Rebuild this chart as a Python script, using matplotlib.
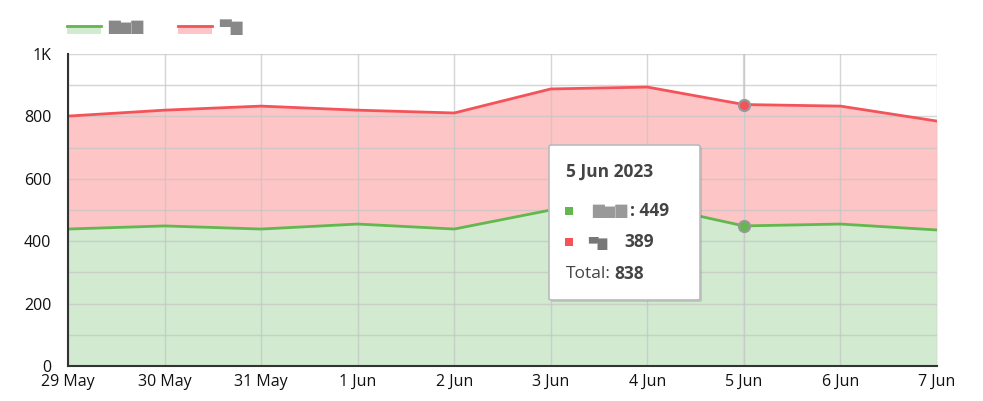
import matplotlib.pyplot as plt
import numpy as np
from matplotlib.patches import Rectangle, FancyBboxPatch
from matplotlib.lines import Line2D
from matplotlib.ticker import MultipleLocator

plt.rcParams['font.family'] = ['Open Sans', 'DejaVu Sans']

dates = ["29 May", "30 May", "31 May", "1 Jun", "2 Jun", "3 Jun", "4 Jun", "5 Jun", "6 Jun", "7 Jun"]
green = [439, 449, 439, 455, 439, 500, 517, 449, 455, 436]
red = [362, 371, 394, 365, 372, 388, 377, 389, 378, 349]
seriesNames = ["▇▆▇", "▀▇"]
hoverIdx = 7
hoverTitle = "5 Jun 2023"

greenLine = "#62b84e"
greenFill = "#d1ead0"
redLine = "#f4535a"
redFill = "#fec5c6"

x = np.arange(len(dates))
top = np.array(green) + np.array(red)

fig = plt.figure(figsize=(9.83, 4.01), dpi=100)
ax = fig.add_axes([68/983, 35/401, 869/983, 312/401])

ax.fill_between(x, 0, green, color=greenFill, lw=0, zorder=1)
ax.fill_between(x, green, top, color=redFill, lw=0, zorder=1)
ax.plot(x, green, color=greenLine, lw=2, zorder=3)
ax.plot(x, top, color=redLine, lw=2, zorder=3)

ax.set_xlim(0, len(dates) - 1)
ax.set_ylim(0, 1000)
ax.set_xticks(x)
ax.set_xticklabels(dates)
ax.set_yticks([0, 200, 400, 600, 800, 1000])
ax.set_yticklabels(["0", "200", "400", "600", "800", "1K"])
ax.yaxis.set_minor_locator(MultipleLocator(100))
ax.tick_params(which="both", length=0, labelsize=11.5, colors="#111111")
ax.tick_params(axis="x", pad=6)
ax.tick_params(axis="y", pad=12)
ax.grid(True, which="both", color="#c4c4c4", lw=1, alpha=0.7, zorder=2)
ax.set_axisbelow(False)
for s in ["top", "right"]:
    ax.spines[s].set_visible(False)
for s in ["left", "bottom"]:
    ax.spines[s].set_color("#333333")
    ax.spines[s].set_linewidth(1.5)
    ax.spines[s].set_zorder(4)

# hover crosshair + markers
ax.axvline(hoverIdx, color="#dadada", lw=1.6, zorder=2.5)
ax.plot(hoverIdx, top[hoverIdx], "o", ms=8, mfc=redLine, mec="#999999", mew=1.5, zorder=5)
ax.plot(hoverIdx, green[hoverIdx], "o", ms=8, mfc=greenLine, mec="#999999", mew=1.5, zorder=5)

# tooltip
W, H = 983, 401
def fx(px): return px / W
def fy(py): return 1 - py / H

shadow = FancyBboxPatch((fx(551), fy(302)), fx(151), 155 / H, boxstyle="round,pad=0,rounding_size=0.003",
                        transform=fig.transFigure, fc="#000000", alpha=0.12, ec="none", zorder=9)
box = FancyBboxPatch((fx(549), fy(300)), fx(151), 155 / H, boxstyle="round,pad=0,rounding_size=0.003",
                     transform=fig.transFigure, fc="white", ec="#bbbbbb", lw=1.2, zorder=10)
fig.patches.extend([shadow, box])
txt = dict(fontsize=12.5, color="#444444", va="center", zorder=11)
fig.text(fx(566), fy(172), hoverTitle, fontweight="bold", **txt)
fig.patches.append(Rectangle((fx(565), fy(215)), fx(8), 8 / H, transform=fig.transFigure,
                             fc=greenLine, ec="none", zorder=11))
fig.patches.append(Rectangle((fx(565), fy(246)), fx(8), 8 / H, transform=fig.transFigure,
                             fc=redLine, ec="none", zorder=11))
fig.text(fx(592), fy(211), seriesNames[0], fontsize=11, color="#999999", va="center", zorder=11)
fig.text(fx(630), fy(211), ": " + str(green[hoverIdx]), fontweight="bold", **txt)
fig.text(fx(588), fy(243), seriesNames[1], fontsize=9, color="#777777", va="center", zorder=11)
fig.text(fx(624), fy(242), str(red[hoverIdx]), fontweight="bold", **txt)
fig.text(fx(566), fy(274), "Total:", **txt)
fig.text(fx(614), fy(274), str(top[hoverIdx]), fontweight="bold", **txt)

# legend
legend = [(67, greenLine, greenFill, seriesNames[0]), (178, redLine, redFill, seriesNames[1])]
for lx, lc, fc, name in legend:
    fig.patches.append(Rectangle((fx(lx), fy(34)), fx(34), 9 / H, transform=fig.transFigure, fc=fc, ec="none"))
    fig.lines.append(Line2D([fx(lx), fx(lx + 34)], [fy(26), fy(26)], transform=fig.transFigure, color=lc, lw=2))
    fig.text(fx(lx + 41), fy(27), name, fontsize=11, color="#888888", va="center")

fig.savefig("out.png", dpi=100)
